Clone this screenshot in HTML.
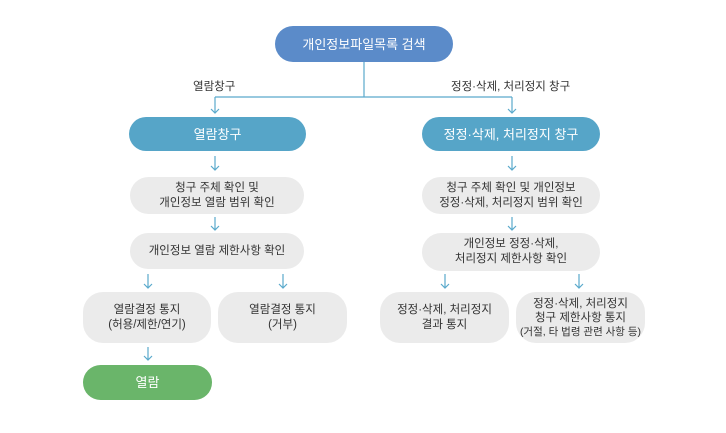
<!DOCTYPE html>
<html><head><meta charset="utf-8"><style>
body{margin:0;background:#fff;width:726px;height:433px;position:relative;overflow:hidden;font-family:"Liberation Sans","Noto Sans CJK KR",sans-serif;}
.b{position:absolute;display:flex;align-items:center;justify-content:center;text-align:center;border-radius:20px;font-size:11.5px;line-height:15px;color:#333;background:#ebebeb;}
.b>div{white-space:nowrap;}
.p{color:#fff;font-size:13px;}
.l{position:absolute;font-size:11.5px;color:#333;}
</style></head><body>
<svg width="726" height="433" style="position:absolute;left:0;top:0" fill="none" stroke="#5aa9cc" stroke-width="1.2">
<path d="M364 62V97M215 97H512M215 97V113M512 97V113"/>
<path d="M211 109L215 113L219 109M508 109L512 113L516 109"/>
<path d="M215 156V170M211 166L215 170L219 166"/>
<path d="M215 217V230M211 226L215 230L219 226"/>
<path d="M148 274V288M144 284L148 288L152 284"/>
<path d="M283 274V288M279 284L283 288L287 284"/>
<path d="M148 347V360M144 356L148 360L152 356"/>
<path d="M512 156V170M508 166L512 170L516 166"/>
<path d="M512 217V230M508 226L512 230L516 226"/>
<path d="M445 274V288M441 284L445 288L449 284"/>
<path d="M579 274V288M575 284L579 288L583 284"/>
</svg>
<div class="b p" style="left:275px;top:26px;width:178px;height:36px;background:#5b8bc9;"><div>개인정보파일목록 검색</div></div>
<div class="l" style="left:193px;top:78px">열람창구</div>
<div class="l" style="left:451px;top:78px">정정·삭제, 처리정지 창구</div>
<div class="b p" style="left:129px;top:117px;width:177px;height:34px;background:#56a5c8;"><div>열람창구</div></div>
<div class="b p" style="left:422px;top:117px;width:178px;height:34px;background:#56a5c8;"><div>정정·삭제, 처리정지 창구</div></div>
<div class="b" style="left:130px;top:177px;width:174px;height:37px;"><div>청구 주체 확인 및<br>개인정보 열람 범위 확인</div></div>
<div class="b" style="left:130px;top:233px;width:174px;height:36px;"><div>개인정보 열람 제한사항 확인</div></div>
<div class="b" style="left:83px;top:292px;width:128px;height:51px;"><div>열람결정 통지<br>(허용/제한/연기)</div></div>
<div class="b" style="left:218px;top:292px;width:129px;height:51px;"><div>열람결정 통지<br>(거부)</div></div>
<div class="b p" style="left:83px;top:365px;width:129px;height:35px;background:#6ab56a;"><div>열람</div></div>
<div class="b" style="left:422px;top:177px;width:178px;height:37px;"><div>청구 주체 확인 및 개인정보<br>정정·삭제, 처리정지 범위 확인</div></div>
<div class="b" style="left:422px;top:233px;width:178px;height:38px;"><div>개인정보 정정·삭제,<br>처리정지 제한사항 확인</div></div>
<div class="b" style="left:380px;top:292px;width:129px;height:51px;"><div>정정·삭제, 처리정지<br>결과 통지</div></div>
<div class="b" style="left:516px;top:292px;width:129px;height:51px;line-height:14px;"><div>정정·삭제, 처리정지<br>청구 제한사항 통지<br><span style="font-size:10.5px">(거절, 타 법령 관련 사항 등)</span></div></div>
</body></html>
